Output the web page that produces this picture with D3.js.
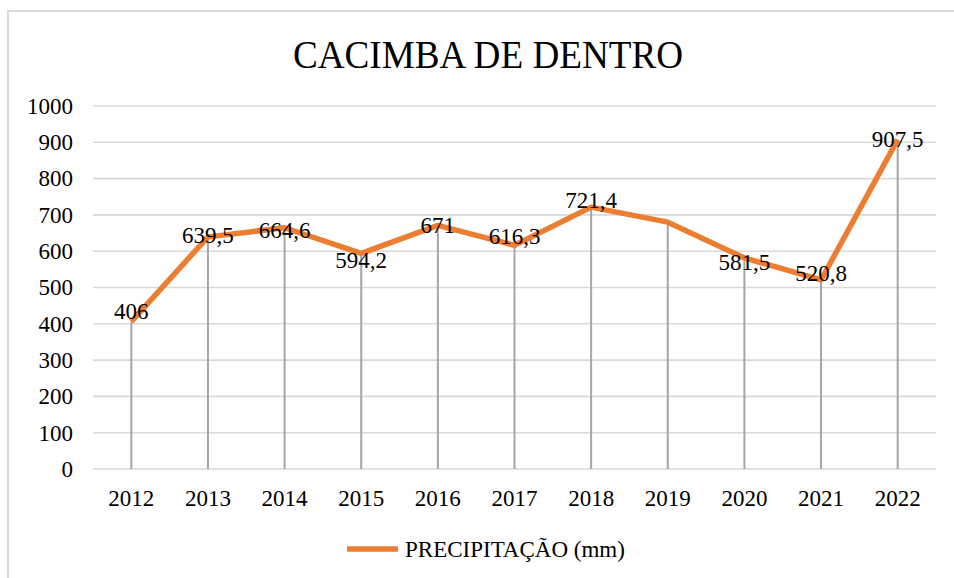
<!DOCTYPE html>
<html>
<head>
<meta charset="utf-8">
<script src="https://cdn.jsdelivr.net/npm/d3@7"></script>
<style>
  html, body { margin: 0; padding: 0; background: #fff; }
  svg { display: block; }
</style>
</head>
<body>
<svg id="chart" width="954" height="578"></svg>
<script>
// chart data
const years = ["2012", "2013", "2014", "2015", "2016", "2017", "2018", "2019", "2020", "2021", "2022"];
const precipitation = [406, 639.5, 664.6, 594.2, 671, 616.3, 721.4, 680, 581.5, 520.8, 907.5];
const pointLabels = ["406", "639,5", "664,6", "594,2", "671", "616,3", "721,4", "", "581,5", "520,8", "907,5"];
const yTicks = [0, 100, 200, 300, 400, 500, 600, 700, 800, 900, 1000];
const title = "CACIMBA DE DENTRO";
const seriesName = "PRECIPITAÇÃO (mm)";

const W = 954, H = 578;
const margin = { top: 106, right: 18, bottom: 109, left: 93 };
const orange = "#ED7D31";
const FONT = "'Liberation Serif', 'Times New Roman', serif";
// small vertical shifts of the data labels, as placed in the original (px)
const labelNudge = [-10, -1, 3, 7, 0, -9, -7, 0, 4, -7, 0];

const svg = d3.select("#chart").style("font-family", FONT);

// outer chart frame (cropped on right/bottom)
svg.append("path")
    .attr("d", `M8,${H + 5}V11H${W + 5}`)
    .attr("fill", "none")
    .attr("stroke", "#d9d9d9")
    .attr("stroke-width", 2);

const x = d3.scaleBand()
    .domain(years)
    .range([margin.left, W - margin.right]);

const y = d3.scaleLinear()
    .domain([0, 1000])
    .range([H - margin.bottom, margin.top]);

const cx = d => x(d) + x.bandwidth() / 2;

// title
svg.append("text")
    .attr("x", 488).attr("y", 68)
    .attr("text-anchor", "middle")
    .attr("font-size", 40)
    .attr("textLength", 390)
    .attr("lengthAdjust", "spacingAndGlyphs")
    .attr("fill", "#000")
    .text(title);

// horizontal gridlines
svg.append("g").attr("class", "grid")
  .selectAll("line")
  .data(yTicks)
  .join("line")
    .attr("x1", margin.left).attr("x2", W - margin.right)
    .attr("y1", d => y(d)).attr("y2", d => y(d))
    .attr("stroke", "#d9d9d9")
    .attr("stroke-width", 1.6);

// y axis labels
const yAxis = svg.append("g")
    .attr("transform", `translate(${margin.left - 20},0)`)
    .call(d3.axisLeft(y).tickValues(yTicks).tickSize(0).tickPadding(0).tickFormat(d3.format("d")));
yAxis.select(".domain").remove();
yAxis.attr("font-family", null);
yAxis.selectAll("text")
    .attr("font-size", 23)
    .attr("fill", "#000");

// x axis labels
const xAxis = svg.append("g")
    .attr("transform", `translate(0,${H - margin.bottom + 20})`)
    .call(d3.axisBottom(x).tickSize(0).tickPadding(0));
xAxis.select(".domain").remove();
xAxis.attr("font-family", null);
xAxis.selectAll("text")
    .attr("font-size", 23)
    .attr("fill", "#000")
    .attr("dy", "0.75em");

const points = years.map((yr, i) => ({ yr, v: precipitation[i], label: pointLabels[i], nudge: labelNudge[i] }));

// drop lines
svg.append("g").attr("class", "drops")
  .selectAll("line")
  .data(points)
  .join("line")
    .attr("x1", d => cx(d.yr)).attr("x2", d => cx(d.yr))
    .attr("y1", d => y(d.v)).attr("y2", y(0))
    .attr("stroke", "#a5a5a5")
    .attr("stroke-width", 2);

// series line
svg.append("path")
    .datum(points)
    .attr("fill", "none")
    .attr("stroke", orange)
    .attr("stroke-width", 5.5)
    .attr("stroke-linejoin", "round")
    .attr("d", d3.line().x(d => cx(d.yr)).y(d => y(d.v)));

// data labels
svg.append("g").attr("class", "labels")
  .selectAll("text")
  .data(points.filter(d => d.label))
  .join("text")
    .attr("x", d => cx(d.yr))
    .attr("y", d => y(d.v) + d.nudge)
    .attr("dy", "0.33em")
    .attr("text-anchor", "middle")
    .attr("font-size", 23)
    .attr("fill", "#000")
    .text(d => d.label);

// legend
const legend = svg.append("g").attr("transform", "translate(347,549)");
legend.append("line")
    .attr("x1", 0).attr("x2", 51)
    .attr("stroke", orange)
    .attr("stroke-width", 5.5);
legend.append("text")
    .attr("x", 58).attr("y", 8)
    .attr("font-size", 23)
    .attr("fill", "#000")
    .text(seriesName);
</script>
</body>
</html>
